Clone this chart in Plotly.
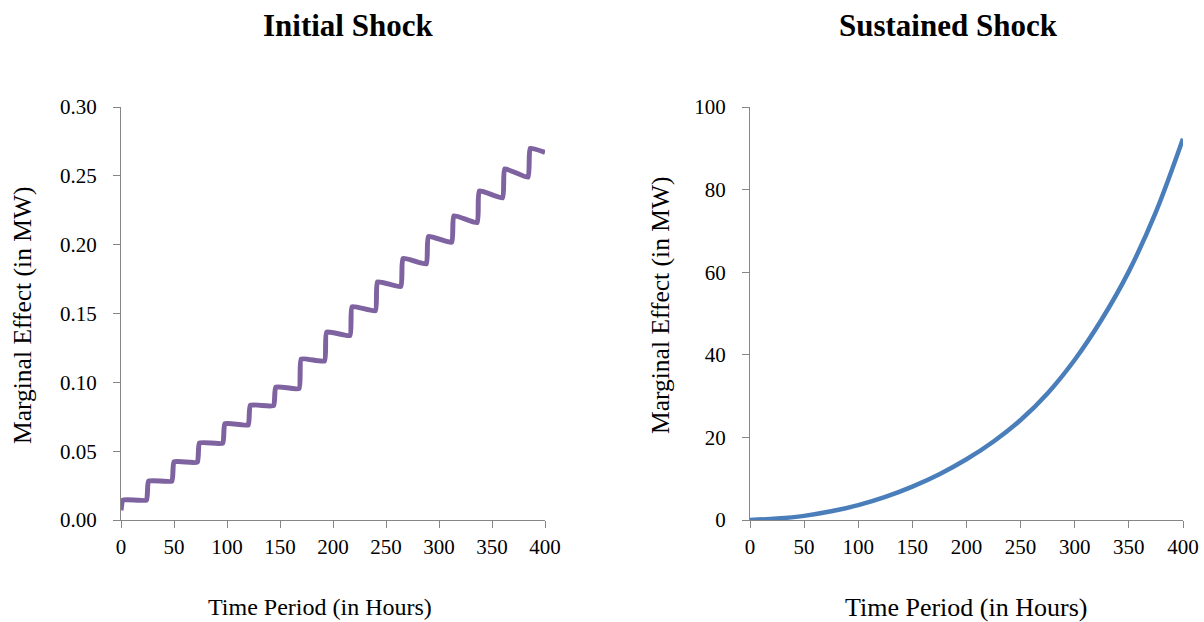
import plotly.graph_objects as go

# Initial shock: hourly marginal effect, a staircase with a jump each day
hours_initial = [0, 2, 24, 26, 48, 50, 72, 74, 96, 98, 120, 122, 144, 146,
                 168, 170, 192, 194, 216, 218, 240, 242, 264, 266, 288, 290,
                 312, 314, 336, 338, 360, 362, 384, 386, 400]
effect_initial = [0.007, 0.0145, 0.0145, 0.0283, 0.0283, 0.0423, 0.0420,
                  0.0560, 0.0558, 0.0700, 0.0690, 0.0833, 0.0830, 0.0965,
                  0.0955, 0.1170, 0.1155, 0.1365, 0.1340, 0.1550, 0.1520,
                  0.1730, 0.1696, 0.1900, 0.1860, 0.2060, 0.2017, 0.2210,
                  0.2160, 0.2390, 0.2340, 0.2550, 0.2490, 0.2700, 0.2670]

# Sustained shock: cumulative marginal effect
hours_sustained = [0, 25, 50, 75, 100, 125, 150, 175, 200, 225, 250, 275,
                   300, 325, 350, 375, 400]
effect_sustained = [0.0, 0.35, 1.0, 2.1, 3.6, 5.6, 8.1, 11.1, 14.7, 19.0,
                    24.2, 30.7, 38.8, 48.6, 60.2, 74.6, 92.3]

x_ticks = [0, 50, 100, 150, 200, 250, 300, 350, 400]
y_ticks_initial = [0.00, 0.05, 0.10, 0.15, 0.20, 0.25, 0.30]
y_ticks_sustained = [0, 20, 40, 60, 80, 100]

W, H = 1204, 622
FONT = "Liberation Serif"
AXIS_GREY = "#868686"


def fx(p):
    return p / W


def fy(p):
    return 1 - p / H


fig = go.Figure()
fig.add_trace(go.Scatter(
    x=hours_initial, y=effect_initial, mode="lines",
    line=dict(color="#7F63A1", width=5, shape="spline", smoothing=0.4),
    xaxis="x", yaxis="y", showlegend=False, hoverinfo="skip"))
fig.add_trace(go.Scatter(
    x=hours_sustained, y=effect_sustained, mode="lines",
    line=dict(color="#4A7EBB", width=4.5, shape="spline", smoothing=1),
    xaxis="x2", yaxis="y2", showlegend=False, hoverinfo="skip"))

axis_common = dict(
    showgrid=False, zeroline=False, showline=True, linecolor=AXIS_GREY,
    linewidth=1, ticks="outside", ticklen=7, tickcolor=AXIS_GREY,
    tickwidth=1, tickfont=dict(family=FONT, size=21, color="black"),
    fixedrange=True, automargin=False)

fig.update_layout(
    width=W, height=H, autosize=False,
    margin=dict(l=0, r=0, t=0, b=0, pad=0, autoexpand=False),
    paper_bgcolor="white", plot_bgcolor="white",
    xaxis=dict(domain=[fx(121), fx(545)], anchor="y", range=[0, 400],
               tickvals=x_ticks, ticklabelstandoff=1, **axis_common),
    yaxis=dict(domain=[fy(520), fy(107)], anchor="x", range=[0, 0.30],
               tickvals=y_ticks_initial, tickformat=".2f",
               ticklabelstandoff=12, **axis_common),
    xaxis2=dict(domain=[fx(750), fx(1183)], anchor="y2", range=[0, 400],
                tickvals=x_ticks, ticklabelstandoff=1, **axis_common),
    yaxis2=dict(domain=[fy(520), fy(107)], anchor="x2", range=[0, 100],
                tickvals=y_ticks_sustained, ticklabelstandoff=12,
                **axis_common),
)

title_font = dict(family=FONT, size=31, color="black")
label_font = dict(family=FONT, size=24, color="black")
label_font_wide = dict(family=FONT, size=26, color="black")
ylabel_font = dict(family=FONT, size=25.5, color="black")

annotations = [
    dict(text="<b>Initial Shock</b>", x=fx(348), y=fy(25), font=title_font),
    dict(text="<b>Sustained Shock</b>", x=fx(948), y=fy(25), font=title_font),
    dict(text="Time Period (in Hours)", x=fx(320), y=fy(607), font=label_font),
    dict(text="Time Period (in Hours)", x=fx(966), y=fy(607),
         font=label_font_wide),
    dict(text="Marginal Effect (in MW)", x=fx(22), y=fy(315), textangle=-90,
         font=ylabel_font),
    dict(text="Marginal Effect (in MW)", x=fx(660), y=fy(305), textangle=-90,
         font=ylabel_font),
]
for a in annotations:
    a.update(xref="paper", yref="paper", xanchor="center", yanchor="middle",
             showarrow=False)
fig.update_layout(annotations=annotations)

fig.write_html("out.html")
